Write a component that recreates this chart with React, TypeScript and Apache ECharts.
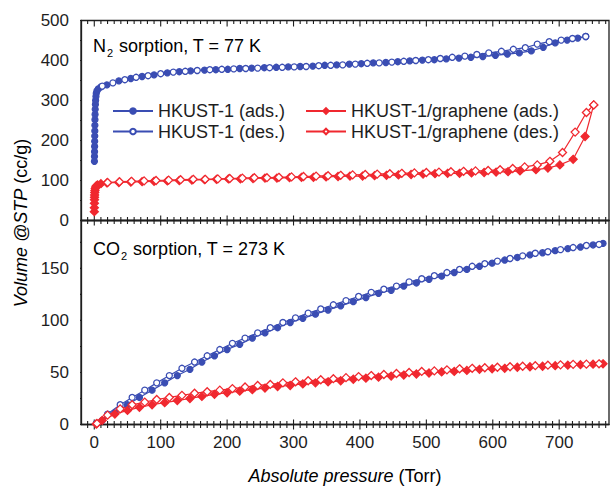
import React, { useEffect, useRef } from "react";
import * as echarts from "echarts";

const FONT = '"Liberation Sans", Arial, Helvetica, sans-serif';
const BLUE = "#3a4db3";
const RED = "#f0282f";
const INK = "#1e1e1e";

// ---- N2 sorption, T = 77 K ----
const n2HkustAdsP = [0.2, 0.3, 0.4, 0.5, 0.6, 0.7, 0.8, 0.9, 1.0, 1.2, 1.4, 1.7, 2.0, 2.5, 3, 4, 6, 10, 19, 37, 55, 72, 90, 110, 128, 145, 166, 183, 201, 219, 237, 256, 274, 292, 310, 329, 347, 365, 384, 402, 420, 439, 457, 475, 494, 512, 530, 549, 567, 585, 604, 622, 640, 658, 676, 694, 712, 728, 740];
const n2HkustAdsV = [148, 160, 172, 185, 198, 211, 224, 238, 252, 265, 278, 290, 300, 310, 318, 324, 329, 334, 339, 349, 355, 360, 364, 369, 372, 374, 376, 377, 378, 380, 381, 382, 383, 384, 385, 386, 388, 389, 391, 392, 394, 395, 397, 399, 401, 402, 404, 406, 408, 410, 413, 416, 419, 424, 433, 444, 451, 456, 460];
const n2HkustDesP = [740, 720, 703, 685, 667, 649, 631, 613, 594, 576, 558, 539, 521, 503, 484, 466, 448, 429, 411, 393, 374, 356, 338, 319, 301, 283, 264, 246, 228, 210, 192, 174, 155, 137, 119, 100, 81, 63, 46, 28, 12];
const n2HkustDesV = [460, 455, 451, 447, 441, 432, 428, 423, 419, 415, 411, 408, 405, 402, 400, 398, 396, 394, 393, 391, 389, 388, 387, 385, 384, 383, 382, 381, 380, 379, 378, 377, 375, 373, 371, 367, 362, 358, 352, 344, 336];
const n2GrapheneAdsP = [0.05, 0.1, 0.2, 0.3, 0.4, 0.5, 0.7, 1, 1.5, 2.2, 3.2, 5, 10, 19, 37, 55, 72, 90, 110, 128, 147, 166, 184, 202, 220, 239, 257, 275, 294, 312, 330, 349, 367, 385, 404, 422, 440, 458, 477, 495, 513, 532, 550, 568, 587, 605, 623, 641, 665, 683, 701, 721, 739, 752];
const n2GrapheneAdsV = [22, 32, 43, 52, 58, 64, 70, 75, 80, 84, 87, 89, 92, 94, 95, 96, 97, 98, 99, 100, 101, 102, 103, 104, 104, 105, 106, 106, 107, 108, 108, 109, 110, 111, 111, 112, 113, 114, 115, 116, 117, 118, 118, 119, 120, 121, 122, 124, 127, 131, 139, 153, 210, 289];
const n2GrapheneDesP = [752, 741, 724, 705, 686, 667, 648, 630, 611, 593, 574, 556, 537, 519, 500, 482, 463, 445, 426, 408, 389, 371, 352, 334, 315, 297, 278, 260, 241, 223, 204, 186, 167, 149, 130, 112, 93, 75, 56, 38, 20];
const n2GrapheneDesV = [289, 270, 221, 170, 148, 139, 134, 130, 127, 125, 124, 123, 122, 121, 120, 119, 118, 117, 116, 115, 114, 113, 112, 111, 110, 109, 108, 107, 107, 106, 105, 104, 103, 103, 102, 101, 100, 99, 98, 97, 95];

// ---- CO2 sorption, T = 273 K ----
const co2AdsP = [3, 12, 31, 50, 68, 87, 106, 125, 144, 162, 181, 200, 219, 238, 257, 276, 295, 314, 333, 352, 371, 390, 409, 428, 447, 466, 485, 504, 523, 542, 561, 580, 599, 618, 637, 656, 675, 694, 713, 732, 751, 766];
const co2DesP = [760, 741, 721, 702, 683, 664, 645, 626, 607, 588, 569, 550, 531, 512, 493, 474, 455, 436, 417, 398, 379, 360, 341, 322, 303, 284, 265, 246, 227, 208, 189, 170, 151, 132, 113, 94, 76, 57, 39, 20, 4];
const co2HkustAdsV = [1, 4, 11, 19, 26, 33, 40, 47, 53, 60, 66, 72, 77, 83, 88, 93, 98, 102, 106, 110, 114, 118, 122, 126, 129, 133, 136, 139.5, 142.5, 146, 149, 152, 155, 158, 160.5, 163, 165, 167, 169, 170.5, 172.5, 174];
const co2HkustDesV = [173, 172, 170, 168, 166, 164.5, 162, 159.5, 157, 154.5, 152, 149, 146, 143, 140, 137, 133, 130, 127, 123, 119, 115, 111, 107, 102.5, 98, 93, 88, 83, 78, 72, 66, 60, 54, 47, 40, 33, 26, 19, 10, 1];
const co2GrapheneAdsV = [0.5, 4, 10, 13.5, 16.5, 19, 21, 23, 25, 27, 29, 30.5, 32, 33.5, 35, 36.5, 37.5, 39, 40, 41, 42, 43.5, 44.5, 45.5, 46.5, 47.5, 48.5, 49.5, 50.5, 51, 52, 53, 53.5, 54, 55, 55.5, 56, 56.5, 57, 57.5, 58, 58.3];
const co2GrapheneDesV = [58.3, 58, 57.8, 57.3, 57, 56.5, 56, 55.5, 55, 54.5, 54, 53.5, 52.5, 51.5, 51, 50, 49, 48, 47, 46, 45, 44, 43, 42, 41, 40, 38.5, 37.5, 36, 34.5, 33, 31.5, 30, 28, 26, 24, 21.5, 19, 15, 9, 1];

const LEGEND_NAMES = ["HKUST-1 (ads.)", "HKUST-1 (des.)", "HKUST-1/graphene (ads.)", "HKUST-1/graphene (des.)"];
const X_MIN = -20;
const X_MAX = 775;
const TOP_Y_MAX = 500;
const BOTTOM_Y_MAX = 196;

// axis tick values
const X_MAJOR_TICKS = [0, 100, 200, 300, 400, 500, 600, 700];
const X_MINOR_STEP = 10;
const TOP_Y_MAJOR_TICKS = [0, 100, 200, 300, 400, 500];
const TOP_Y_MINOR_TICKS = [50, 150, 250, 350, 450];
const BOTTOM_Y_MAJOR_TICKS = [0, 50, 100, 150];
const BOTTOM_Y_MINOR_TICKS = [25, 75, 125, 175];

// layout (px)
const GRID_LEFT = 81;
const GRID_WIDTH = 528;
const TOP_H = 200;
const BOT_H = 204;

const zip = (xs: number[], ys: number[]) => xs.map((x, i) => [x, ys[i]]);

function mkSeries(name: string, data: number[][], color: string, filled: boolean, shape: string, grid: number) {
  const isDiamond = shape === "diamond";
  return {
    type: "line",
    name,
    xAxisIndex: grid,
    yAxisIndex: grid,
    data,
    symbol: shape,
    symbolSize: isDiamond ? [8, 8] : 6,
    showSymbol: true,
    lineStyle: { color, width: 1.2 },
    itemStyle: { color: filled ? color : "#ffffff", borderColor: color, borderWidth: 1.3 },
  };
}

const xMinorTicks: number[] = [];
for (let v = Math.ceil(X_MIN / X_MINOR_STEP) * X_MINOR_STEP; v < X_MAX; v += X_MINOR_STEP) {
  if (v > X_MIN && !X_MAJOR_TICKS.includes(v)) xMinorTicks.push(v);
}

// pixel -> data-unit conversions for tick lengths
const xUnitsPerPx = (X_MAX - X_MIN) / GRID_WIDTH;
const topUnitsPerPx = TOP_Y_MAX / TOP_H;
const botUnitsPerPx = BOTTOM_Y_MAX / BOT_H;

const GAP = [NaN, NaN];

// tick segments drawn as a broken line series (gaps between segments)
function topTickData() {
  const d: number[][] = [];
  const add = (a: number[], b: number[]) => { d.push(a, b, GAP); };
  X_MAJOR_TICKS.forEach((v) => {
    add([v, TOP_Y_MAX], [v, TOP_Y_MAX - 6 * topUnitsPerPx]);
    add([v, -5 * topUnitsPerPx], [v, 5 * topUnitsPerPx]);
  });
  xMinorTicks.forEach((v) => {
    add([v, TOP_Y_MAX], [v, TOP_Y_MAX - 3.5 * topUnitsPerPx]);
    add([v, -3.5 * topUnitsPerPx], [v, 3.5 * topUnitsPerPx]);
  });
  TOP_Y_MAJOR_TICKS.forEach((v) => add([X_MIN - 8 * xUnitsPerPx, v], [X_MIN, v]));
  TOP_Y_MINOR_TICKS.forEach((v) => add([X_MIN - 4.5 * xUnitsPerPx, v], [X_MIN, v]));
  return d;
}

function bottomTickData() {
  const d: number[][] = [];
  const add = (a: number[], b: number[]) => { d.push(a, b, GAP); };
  X_MAJOR_TICKS.forEach((v) => add([v, -5 * botUnitsPerPx], [v, 5 * botUnitsPerPx]));
  xMinorTicks.forEach((v) => add([v, -3.5 * botUnitsPerPx], [v, 3.5 * botUnitsPerPx]));
  BOTTOM_Y_MAJOR_TICKS.forEach((v) => add([X_MIN - 8 * xUnitsPerPx, v], [X_MIN, v]));
  BOTTOM_Y_MINOR_TICKS.forEach((v) => add([X_MIN - 4.5 * xUnitsPerPx, v], [X_MIN, v]));
  return d;
}

function tickLineSeries(name: string, grid: number, data: number[][]) {
  return {
    type: "line",
    name,
    xAxisIndex: grid,
    yAxisIndex: grid,
    data,
    symbol: "none",
    showSymbol: false,
    connectNulls: false,
    clip: false,
    silent: true,
    lineStyle: { color: INK, width: 1.1 },
  };
}

export default function App() {
  const ref = useRef<HTMLDivElement>(null);
  useEffect(() => {
    if (!ref.current) return;
    const chart = echarts.init(ref.current, undefined, { renderer: "svg" });

    const tickLabel = { fontFamily: FONT, fontSize: 17, color: INK };
    const axisLineStyle = { color: INK, width: 1.3 };

    const xBase = (gridIndex: number, labels: boolean) => ({
      type: "value",
      gridIndex,
      min: X_MIN,
      max: X_MAX,
      splitNumber: 8,
      axisLine: { show: true, onZero: false, lineStyle: axisLineStyle },
      axisTick: { show: false },
      axisLabel: labels
        ? { show: true, margin: 9, showMinLabel: false, showMaxLabel: false, ...tickLabel }
        : { show: false },
      splitLine: { show: false },
    });

    const yBase = (gridIndex: number, max: number, interval: number) => ({
      type: "value",
      gridIndex,
      min: 0,
      max,
      interval,
      axisLine: { show: true, onZero: false, lineStyle: axisLineStyle },
      axisTick: { show: false },
      axisLabel: { show: true, margin: 12, showMaxLabel: max === TOP_Y_MAX, ...tickLabel },
      splitLine: { show: false },
    });

    const legendCommon = {
      orient: "vertical",
      itemWidth: 40,
      itemHeight: 7,
      itemGap: 2.5,
      selectedMode: false,
      textStyle: { fontFamily: FONT, fontSize: 18, color: INK, lineHeight: 18 },
    };

    const richAnno = {
      a: { fontFamily: FONT, fontSize: 18, color: INK, verticalAlign: "top" },
      s: { fontFamily: FONT, fontSize: 11, color: INK, verticalAlign: "top", padding: [10, 1, 0, 1] },
    };
    const richName = {
      i: { fontFamily: FONT, fontSize: 18, color: INK, fontStyle: "italic" },
      n: { fontFamily: FONT, fontSize: 18, color: INK },
    };

    chart.setOption({
      animation: false,
      grid: [
        { left: GRID_LEFT, top: 20.5, width: GRID_WIDTH, height: TOP_H, show: true, borderColor: INK, borderWidth: 1.3 },
        { left: GRID_LEFT, top: 20.5 + TOP_H, width: GRID_WIDTH, height: BOT_H, show: true, borderColor: INK, borderWidth: 1.3 },
      ],
      xAxis: [xBase(0, false), xBase(1, true)],
      yAxis: [yBase(0, TOP_Y_MAX, 100), yBase(1, BOTTOM_Y_MAX, 50)],
      legend: [
        { ...legendCommon, left: 107, top: 97, data: [LEGEND_NAMES[0], LEGEND_NAMES[1]] },
        { ...legendCommon, left: 300, top: 97, data: [LEGEND_NAMES[2], LEGEND_NAMES[3]] },
      ],
      graphic: [
        {
          type: "text",
          x: 93,
          y: 37,
          style: { text: "{a|N}{s|2}{a| sorption, T = 77 K}", rich: richAnno, verticalAlign: "top" },
        },
        {
          type: "text",
          x: 93,
          y: 240,
          style: { text: "{a|CO}{s|2}{a| sorption, T = 273 K}", rich: richAnno, verticalAlign: "top" },
        },
        {
          type: "text",
          x: 345,
          y: 476,
          style: { text: "{i|Absolute pressure}{n| (Torr)}", rich: richName, align: "center", verticalAlign: "middle" },
        },
        {
          type: "text",
          x: 21,
          y: 223,
          rotation: Math.PI / 2,
          style: { text: "{i|Volume @STP}{n| (cc/g)}", rich: richName, align: "center", verticalAlign: "middle" },
        },
      ],
      series: [
        mkSeries(LEGEND_NAMES[0], zip(n2HkustAdsP, n2HkustAdsV), BLUE, true, "circle", 0),
        mkSeries(LEGEND_NAMES[1], zip(n2HkustDesP, n2HkustDesV), BLUE, false, "circle", 0),
        mkSeries(LEGEND_NAMES[2], zip(n2GrapheneAdsP, n2GrapheneAdsV), RED, true, "diamond", 0),
        mkSeries(LEGEND_NAMES[3], zip(n2GrapheneDesP, n2GrapheneDesV), RED, false, "diamond", 0),
        mkSeries(LEGEND_NAMES[0], zip(co2AdsP, co2HkustAdsV), BLUE, true, "circle", 1),
        mkSeries(LEGEND_NAMES[1], zip(co2DesP, co2HkustDesV), BLUE, false, "circle", 1),
        mkSeries(LEGEND_NAMES[2], zip(co2AdsP, co2GrapheneAdsV), RED, true, "diamond", 1),
        mkSeries(LEGEND_NAMES[3], zip(co2DesP, co2GrapheneDesV), RED, false, "diamond", 1),
        tickLineSeries("ticks-top", 0, topTickData()),
        tickLineSeries("ticks-bottom", 1, bottomTickData()),
      ],
    });

    return () => chart.dispose();
  }, []);

  return (
    <div
      ref={ref}
      style={{ position: "fixed", left: 0, top: 0, width: 613, height: 486, background: "#fff" }}
    />
  );
}
